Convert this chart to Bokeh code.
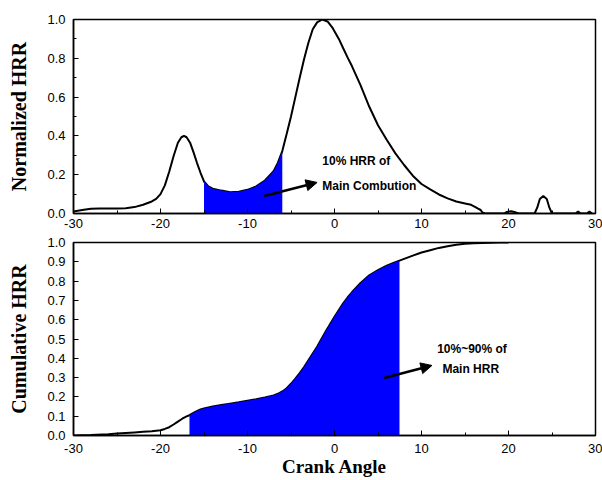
import numpy as np
from bokeh.plotting import figure
from bokeh.layouts import column
from bokeh.models import (Range1d, FixedTicker, PrintfTickFormatter, Arrow,
                          NormalHead, Label)
from bokeh.embed import file_html
from bokeh.resources import INLINE

# Normalized heat release rate vs crank angle
hrr_angle = [-30, -29, -28, -27, -26, -25, -24, -23, -22, -21, -20.5, -20, -19.5,
             -19, -18.5, -18, -17.6, -17.3, -17.0, -16.6, -16.2, -15.8, -15.4,
             -15.0, -14.5, -14.0, -13.0, -12.0, -11.0, -10.0, -9.0, -8.0, -7.0,
             -6.5, -6.0, -5.5, -5.0, -4.5, -4.0, -3.5, -3.0, -2.5, -2.0, -1.4,
             -0.8, -0.2, 0.5, 1.0, 1.5, 2.0, 3.0, 4.0, 5.0, 6.0, 7.0, 8.0, 9.0,
             10.0, 11.0, 12.0, 13.0, 14.0, 15.0, 15.7, 16.2, 16.5, 16.8, 17.0,
             17.3, 19.5, 19.8, 20.3, 20.8, 21.2, 23.0, 23.3, 23.6, 24.0, 24.4,
             24.7, 25.0, 27.7, 28.0, 28.3, 29.0, 29.3, 29.6]
hrr_norm = [0.010, 0.018, 0.025, 0.026, 0.026, 0.026, 0.027, 0.033, 0.045, 0.062,
            0.075, 0.100, 0.145, 0.215, 0.295, 0.365, 0.393, 0.400, 0.393, 0.365,
            0.315, 0.260, 0.210, 0.165, 0.140, 0.128, 0.118, 0.110, 0.112, 0.122,
            0.140, 0.170, 0.218, 0.262, 0.322, 0.410, 0.500, 0.600, 0.700, 0.795,
            0.880, 0.950, 0.985, 1.000, 0.990, 0.955, 0.900, 0.852, 0.805, 0.760,
            0.660, 0.550, 0.455, 0.380, 0.310, 0.250, 0.195, 0.152, 0.124, 0.098,
            0.078, 0.062, 0.052, 0.045, 0.033, 0.025, 0.018, 0.005, 0.0, 0.0,
            0.008, 0.012, 0.006, 0.0, 0.0, 0.030, 0.075, 0.090, 0.075, 0.030,
            0.0, 0.0, 0.010, 0.0, 0.0, 0.010, 0.0]

# Cumulative heat release vs crank angle
cum_angle = [-30, -28, -26, -25, -24, -23, -22, -21, -20, -19.5, -19, -18.5, -18,
             -17.5, -17, -16.67, -16, -15.4, -15, -14, -13, -12, -11, -10, -9, -8,
             -7, -6.5, -6, -5.5, -5, -4.5, -4, -3.5, -3, -2.5, -2, -1.5, -1, -0.5,
             0, 0.5, 1, 1.5, 2, 3, 4, 5, 6, 7, 7.47, 8, 9, 10, 11, 12, 13, 14, 15,
             16, 17, 18, 19, 20]
cum_hrr = [0.0, 0.002, 0.006, 0.010, 0.013, 0.016, 0.019, 0.022, 0.027, 0.034,
           0.043, 0.057, 0.072, 0.087, 0.099, 0.105, 0.122, 0.135, 0.140, 0.150,
           0.158, 0.165, 0.172, 0.180, 0.188, 0.197, 0.208, 0.216, 0.228, 0.245,
           0.268, 0.295, 0.323, 0.355, 0.390, 0.425, 0.460, 0.500, 0.540, 0.578,
           0.615, 0.650, 0.685, 0.715, 0.742, 0.790, 0.830, 0.857, 0.880, 0.898,
           0.906, 0.915, 0.932, 0.948, 0.960, 0.972, 0.981, 0.988, 0.993, 0.996,
           0.998, 0.999, 1.0, 1.0]

# Shaded crank-angle windows
hrr10_window = (-15.0, -6.0)
burn_window = (-16.67, 7.47)

x_major = [-30, -20, -10, 0, 10, 20, 30]
x_minor = [-25, -15, -5, 5, 15, 25]

TICK_FONT = "Liberation Sans"
LABEL_FONT = "Liberation Serif"


def window_fill(xs, ys, lo, hi):
    xs = np.asarray(xs, float)
    ys = np.asarray(ys, float)
    inside = (xs > lo) & (xs < hi)
    fx = np.concatenate([[lo], xs[inside], [hi]])
    fy = np.concatenate([[np.interp(lo, xs, ys)], ys[inside], [np.interp(hi, xs, ys)]])
    return fx, fy


def style(p, yticks, yminor, ylabel):
    p.x_range = Range1d(-30, 30)
    p.y_range = Range1d(0, 1.0)
    p.xgrid.visible = False
    p.ygrid.visible = False
    p.outline_line_color = "black"
    p.outline_line_width = 1.5
    p.background_fill_color = "white"
    p.border_fill_color = "white"

    xa = p.xaxis[0]
    xa.ticker = FixedTicker(ticks=x_major, minor_ticks=x_minor)
    xa.formatter = PrintfTickFormatter(format="%d")
    ya = p.yaxis[0]
    ya.ticker = FixedTicker(ticks=yticks, minor_ticks=yminor)
    ya.formatter = PrintfTickFormatter(format="%.1f")
    ya.axis_label = ylabel
    ya.axis_label_text_font = LABEL_FONT
    ya.axis_label_text_font_style = "bold"
    ya.axis_label_text_font_size = "20px"
    ya.axis_label_text_color = "black"
    ya.axis_label_standoff = 14

    for ax in (xa, ya):
        ax.axis_line_color = "black"
        ax.axis_line_width = 1.5
        ax.major_tick_in = 5
        ax.major_tick_out = 0
        ax.minor_tick_in = 3
        ax.minor_tick_out = 0
        ax.major_tick_line_color = "black"
        ax.minor_tick_line_color = "black"
        ax.major_label_text_font = TICK_FONT
        ax.major_label_text_font_size = "13px"
        ax.major_label_text_color = "black"
        ax.major_label_standoff = 8


# Top panel: normalized HRR
top = figure(width=602, height=233, output_backend="svg", toolbar_location=None,
             min_border_left=73, min_border_right=7, min_border_top=19,
             min_border_bottom=20)
style(top, [0.0, 0.2, 0.4, 0.6, 0.8, 1.0], [0.1, 0.3, 0.5, 0.7, 0.9], "Normalized HRR")
top.xaxis[0].major_label_standoff = 5
top.line(hrr_angle, hrr_norm, line_color="black", line_width=2)
fx, fy = window_fill(hrr_angle, hrr_norm, *hrr10_window)
top.varea(x=fx, y1=0, y2=fy, fill_color="#0000FF")
top.add_layout(Arrow(end=NormalHead(size=11, fill_color="black", line_color="black"),
                     x_start=-8.1, y_start=0.09, x_end=-2.0, y_end=0.16,
                     line_color="black", line_width=2.5))
for txt, yy in [("10% HRR of", 0.27), ("Main Combution", 0.143)]:
    top.add_layout(Label(x=-1.4, y=yy, text=txt, text_font=TICK_FONT,
                         text_font_style="bold", text_font_size="12px",
                         text_baseline="middle", text_color="black"))

# Bottom panel: cumulative HRR
bot = figure(width=602, height=247, output_backend="svg", toolbar_location=None,
             min_border_left=73, min_border_right=7, min_border_top=9,
             min_border_bottom=45)
style(bot, [round(0.1 * i, 1) for i in range(11)], [], "Cumulative HRR")
bot.line(cum_angle, cum_hrr, line_color="black", line_width=2)
fx, fy = window_fill(cum_angle, cum_hrr, *burn_window)
bot.varea(x=fx, y1=0, y2=fy, fill_color="#0000FF")
bot.add_layout(Arrow(end=NormalHead(size=11, fill_color="black", line_color="black"),
                     x_start=5.7, y_start=0.298, x_end=11.2, y_end=0.363,
                     line_color="black", line_width=2.5))
bot.add_layout(Label(x=11.8, y=0.45, text="10%~90% of", text_font=TICK_FONT,
                     text_font_style="bold", text_font_size="12px",
                     text_baseline="middle", text_color="black"))
bot.add_layout(Label(x=12.4, y=0.346, text="Main HRR", text_font=TICK_FONT,
                     text_font_style="bold", text_font_size="12px",
                     text_baseline="middle", text_color="black"))
bxa = bot.xaxis[0]
bxa.axis_label = "Crank Angle"
bxa.axis_label_text_font = LABEL_FONT
bxa.axis_label_text_font_style = "bold"
bxa.axis_label_text_font_size = "19px"
bxa.axis_label_text_color = "black"
bxa.axis_label_standoff = 0

layout = column(top, bot, spacing=0)
open("out.html", "w").write(file_html(layout, INLINE))
